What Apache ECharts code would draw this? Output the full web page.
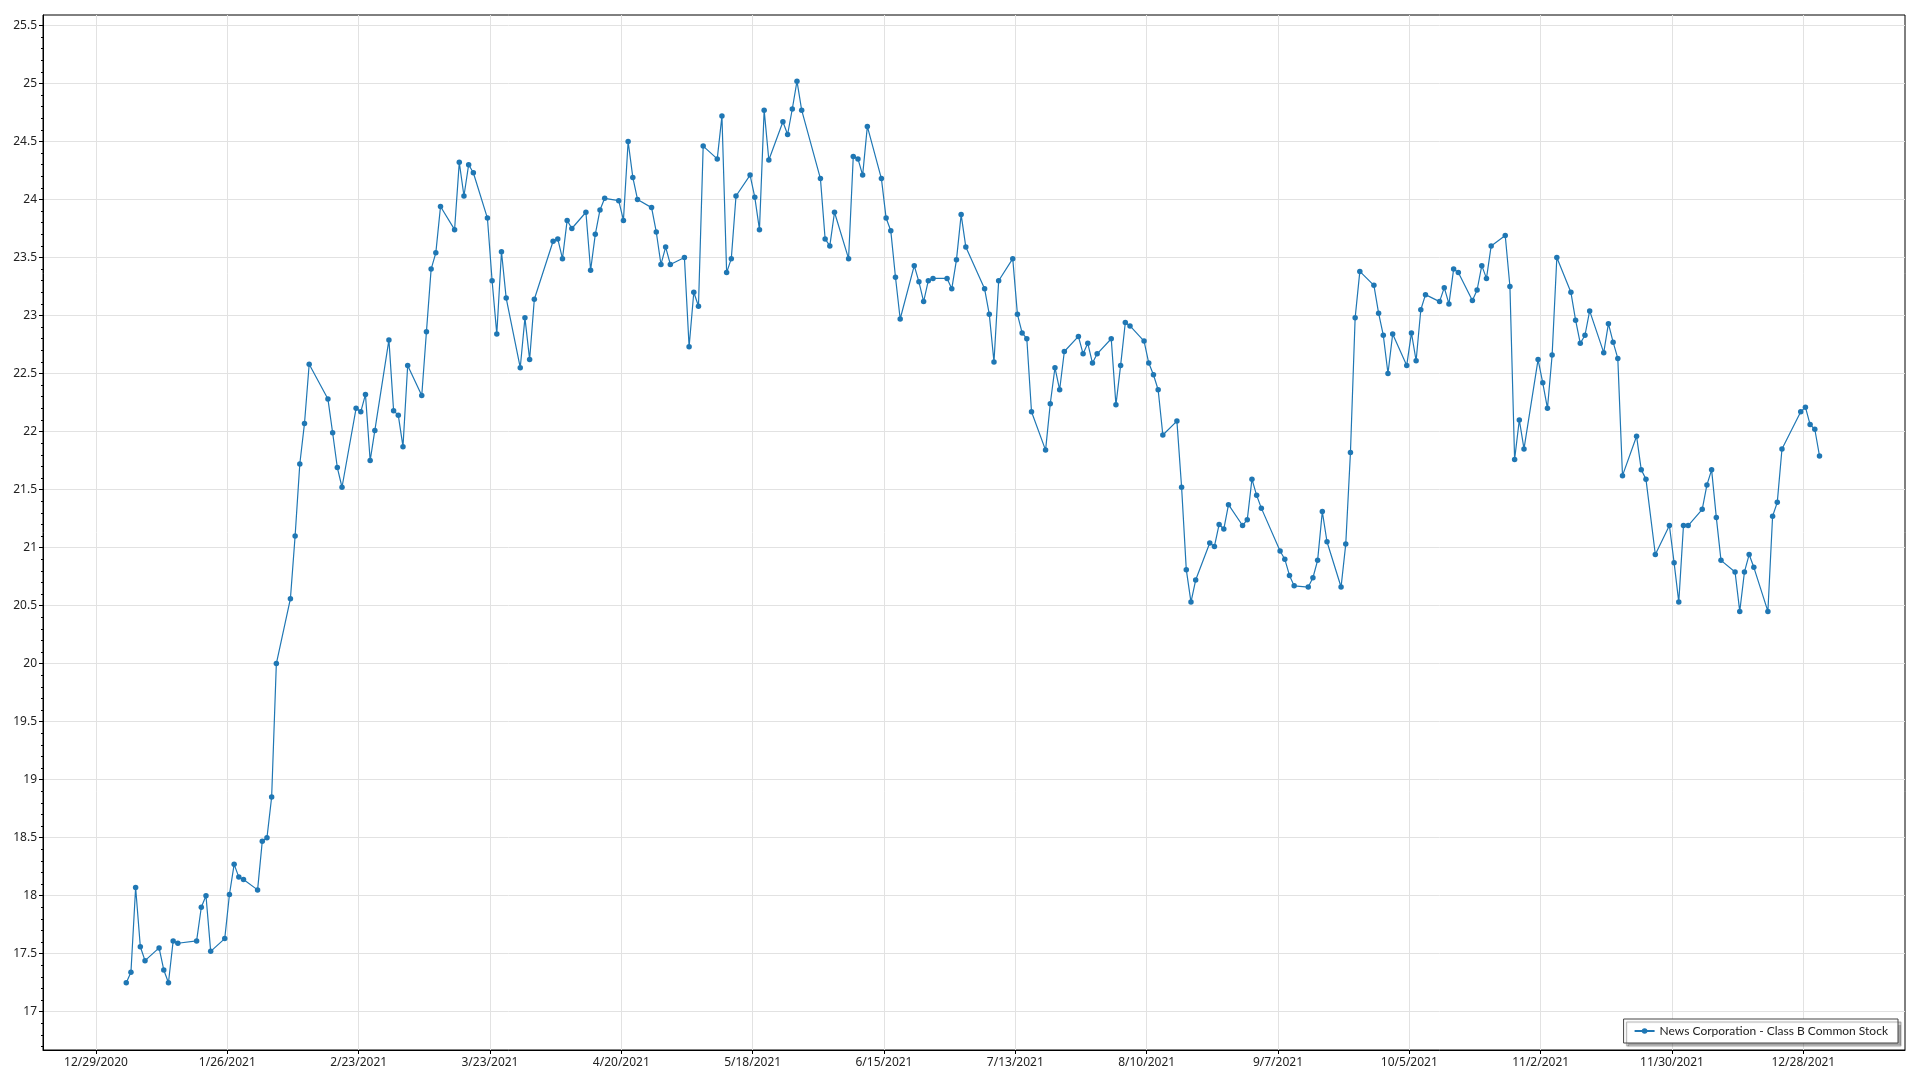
<!DOCTYPE html>
<html>
<head>
<meta charset="utf-8">
<script src="https://cdn.jsdelivr.net/npm/echarts@6/dist/echarts.min.js"></script>
<style>html,body{margin:0;padding:0;background:#fff}#chart{width:1920px;height:1080px}</style>
</head>
<body>
<div id="chart"></div>
<script>
// ---- Data (2021 trading days, closing price) ----
const YEAR = 2021;
const SERIES_NAME = 'News Corporation - Class B Common Stock';
const JAN_DAYS = [4,5,6,7,8,11,12,13,14,15,19,20,21,22,25,26,27,28,29];
const JAN_VALUES = [17.25,17.34,18.07,17.56,17.44,17.55,17.36,17.25,17.61,17.59,17.61,17.90,18.00,17.52,17.63,18.01,18.27,18.16,18.14];
const FEB_DAYS = [1,2,3,4,5,8,9,10,11,12,16,17,18,19,22,23,24,25,26];
const FEB_VALUES = [18.05,18.47,18.50,18.85,20.00,20.56,21.10,21.72,22.07,22.58,22.28,21.99,21.69,21.52,22.20,22.17,22.32,21.75,22.01];
const MAR_DAYS = [1,2,3,4,5,8,9,10,11,12,15,16,17,18,19,22,23,24,25,26,29,30,31];
const MAR_VALUES = [22.79,22.18,22.14,21.87,22.57,22.31,22.86,23.40,23.54,23.94,23.74,24.32,24.03,24.30,24.23,23.84,23.30,22.84,23.55,23.15,22.55,22.98,22.62];
const APR_DAYS = [1,5,6,7,8,9,12,13,14,15,16,19,20,21,22,23,26,27,28,29,30];
const APR_VALUES = [23.14,23.64,23.66,23.49,23.82,23.75,23.89,23.39,23.70,23.91,24.01,23.99,23.82,24.50,24.19,24.00,23.93,23.72,23.44,23.59,23.44];
const MAY_DAYS = [3,4,5,6,7,10,11,12,13,14,17,18,19,20,21,24,25,26,27,28];
const MAY_VALUES = [23.50,22.73,23.20,23.08,24.46,24.35,24.72,23.37,23.49,24.03,24.21,24.02,23.74,24.77,24.34,24.67,24.56,24.78,25.02,24.77];
const JUN_DAYS = [1,2,3,4,7,8,9,10,11,14,15,16,17,18,21,22,23,24,25,28,29,30];
const JUN_VALUES = [24.18,23.66,23.60,23.89,23.49,24.37,24.35,24.21,24.63,24.18,23.84,23.73,23.33,22.97,23.43,23.29,23.12,23.30,23.32,23.32,23.23,23.48];
const JUL_DAYS = [1,2,6,7,8,9,12,13,14,15,16,19,20,21,22,23,26,27,28,29,30];
const JUL_VALUES = [23.87,23.59,23.23,23.01,22.60,23.30,23.49,23.01,22.85,22.80,22.17,21.84,22.24,22.55,22.36,22.69,22.82,22.67,22.76,22.59,22.67];
const AUG_DAYS = [2,3,4,5,6,9,10,11,12,13,16,17,18,19,20,23,24,25,26,27,30,31];
const AUG_VALUES = [22.80,22.23,22.57,22.94,22.91,22.78,22.59,22.49,22.36,21.97,22.09,21.52,20.81,20.53,20.72,21.04,21.01,21.20,21.16,21.37,21.19,21.24];
const SEP_DAYS = [1,2,3,7,8,9,10,13,14,15,16,17,20,21,22,23,24,27,28,29,30];
const SEP_VALUES = [21.59,21.45,21.34,20.97,20.90,20.76,20.67,20.66,20.74,20.89,21.31,21.05,20.66,21.03,21.82,22.98,23.38,23.26,23.02,22.83,22.50];
const OCT_DAYS = [1,4,5,6,7,8,11,12,13,14,15,18,19,20,21,22,25,26,27,28,29];
const OCT_VALUES = [22.84,22.57,22.85,22.61,23.05,23.18,23.12,23.24,23.10,23.40,23.37,23.13,23.22,23.43,23.32,23.60,23.69,23.25,21.76,22.10,21.85];
const NOV_DAYS = [1,2,3,4,5,8,9,10,11,12,15,16,17,18,19,22,23,24,26,29,30];
const NOV_VALUES = [22.62,22.42,22.20,22.66,23.50,23.20,22.96,22.76,22.83,23.04,22.68,22.93,22.77,22.63,21.62,21.96,21.67,21.59,20.94,21.19,20.87];
const DEC_DAYS = [1,2,3,6,7,8,9,10,13,14,15,16,17,20,21,22,23,27,28,29,30,31];
const DEC_VALUES = [20.53,21.19,21.19,21.33,21.54,21.67,21.26,20.89,20.79,20.45,20.79,20.94,20.83,20.45,21.27,21.39,21.85,22.17,22.21,22.06,22.02,21.79];

const X_TICK_LABELS = ['12/29/2020','1/26/2021','2/23/2021','3/23/2021','4/20/2021','5/18/2021','6/15/2021','7/13/2021','8/10/2021','9/7/2021','10/5/2021','11/2/2021','11/30/2021','12/28/2021'];
const Y_TICK_LABELS = [17,17.5,18,18.5,19,19.5,20,20.5,21,21.5,22,22.5,23,23.5,24,24.5,25,25.5];

// ---- Build ----
const DAY = 86400000;
const MONTHS_DAYS = [JAN_DAYS,FEB_DAYS,MAR_DAYS,APR_DAYS,MAY_DAYS,JUN_DAYS,JUL_DAYS,AUG_DAYS,SEP_DAYS,OCT_DAYS,NOV_DAYS,DEC_DAYS];
const MONTHS_VALUES = [JAN_VALUES,FEB_VALUES,MAR_VALUES,APR_VALUES,MAY_VALUES,JUN_VALUES,JUL_VALUES,AUG_VALUES,SEP_VALUES,OCT_VALUES,NOV_VALUES,DEC_VALUES];
const POINT_TIME_OFFSET = 0.45 * DAY;
const seriesData = [];
MONTHS_DAYS.forEach((days, m) => {
  days.forEach((d, i) => {
    seriesData.push([Date.UTC(YEAR, m, d) + POINT_TIME_OFFSET, MONTHS_VALUES[m][i]]);
  });
});
function parseMDY(s) { const [m, d, y] = s.split('/').map(Number); return Date.UTC(y, m - 1, d); }
function fmtMDY(t) { const dt = new Date(t); return (dt.getUTCMonth() + 1) + '/' + dt.getUTCDate() + '/' + dt.getUTCFullYear(); }
const xTickValues = X_TICK_LABELS.map(parseMDY);

const X_MIN = Date.UTC(2020, 11, 17) + 0.70 * DAY;
const X_MAX = Date.UTC(2022, 0, 18) + 0.68 * DAY;

const FONT = "'Noto Sans', 'Open Sans', sans-serif";
const GRID_COLOR = '#e2e2e2';
const LINE_COLOR = '#1f77b4';

const chart = echarts.init(document.getElementById('chart'), null, { renderer: 'canvas' });
chart.setOption({
  animation: false,
  backgroundColor: '#fff',
  textStyle: { fontFamily: FONT },
  grid: { left: 43, right: 15, top: 15, bottom: 30, show: true, borderColor: '#000', borderWidth: 1, backgroundColor: 'transparent', containLabel: false },
  legend: {
    data: [SERIES_NAME],
    right: 22, bottom: 37,
    padding: [6, 10, 6, 10],
    itemWidth: 20, itemHeight: 7,
    borderColor: '#444', borderWidth: 1,
    backgroundColor: '#fff',
    shadowColor: 'rgba(0,0,0,0.35)', shadowBlur: 1, shadowOffsetX: 3, shadowOffsetY: 3,
    textStyle: { fontFamily: "Lato, 'Noto Sans', sans-serif", fontSize: 12, color: '#222' }
  },
  xAxis: {
    type: 'value',
    min: X_MIN, max: X_MAX,
    axisLine: { show: true, lineStyle: { color: '#000', width: 1 } },
    axisTick: { show: true, customValues: xTickValues, length: 4, inside: false, lineStyle: { color: '#000' } },
    axisLabel: { customValues: xTickValues, formatter: v => fmtMDY(v), margin: 7, color: '#222', fontSize: 12, fontFamily: FONT },
    splitLine: { show: true, lineStyle: { color: GRID_COLOR, width: 1 } },
    minorTick: { show: false }
  },
  yAxis: {
    type: 'value',
    min: 16.67, max: 25.59,
    splitNumber: 18,
    axisLine: { show: true, lineStyle: { color: '#000', width: 1 } },
    axisTick: { show: true, customValues: Y_TICK_LABELS, length: 4, lineStyle: { color: '#000' } },
    minorTick: { show: true, splitNumber: 5, length: 2, lineStyle: { color: '#000' } },
    axisLabel: { customValues: Y_TICK_LABELS, formatter: v => String(v), margin: 6, color: '#222', fontSize: 12, fontFamily: FONT },
    splitLine: { show: true, lineStyle: { color: GRID_COLOR, width: 1 } }
  },
  series: [{
    name: SERIES_NAME,
    type: 'line',
    data: seriesData,
    symbol: 'circle',
    symbolSize: 5.5,
    showSymbol: true,
    showAllSymbol: true,
    lineStyle: { color: LINE_COLOR, width: 1.2 },
    itemStyle: { color: LINE_COLOR },
    emphasis: { disabled: true }
  }]
});
</script>
</body>
</html>
